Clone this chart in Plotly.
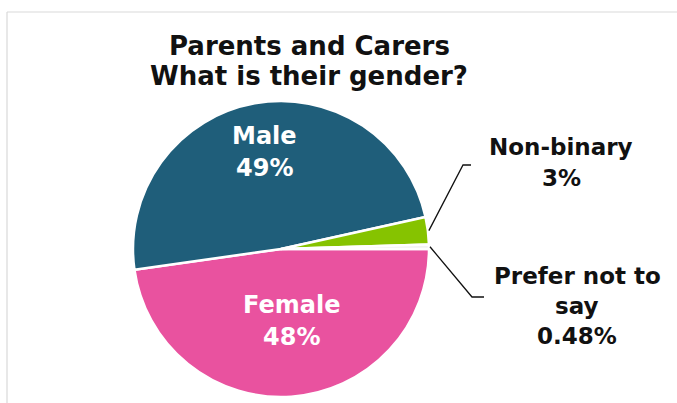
import math
import plotly.graph_objects as go

# Survey answers: parents and carers, by gender
categories = ["Female", "Male", "Non-binary", "Prefer not to say"]
values = [48, 49, 3, 0.48]
value_labels = ["48%", "49%", "3%", "0.48%"]
label_lines = [["Female"], ["Male"], ["Non-binary"], ["Prefer not to", "say"]]
colors = ["#E9529F", "#1F5E7A", "#86C300", "#F2F2F2"]
title_lines = ["Parents and Carers", "What is their gender?"]

W, H = 677, 403
# pie placement in pixels
CX, CY, R = 281, 249, 148


def px(x):
    return x / W


def py(y):
    return 1 - y / H


fig = go.Figure(
    go.Pie(
        labels=categories,
        values=values,
        sort=False,
        direction="clockwise",
        rotation=90,
        marker=dict(colors=colors, line=dict(color="white", width=2.5)),
        textinfo="none",
        hoverinfo="label+value",
        showlegend=False,
        domain=dict(x=[px(CX - R), px(CX + R)], y=[py(CY + R), py(CY - R)]),
    )
)

FONT = "DejaVu Sans"
annotations = []


def text_block(lines, x, y0, pitch, size, color):
    """Stack bold lines centred on x, first line centred at y0 (pixels)."""
    for i, line in enumerate(lines):
        annotations.append(dict(
            text=f"<b>{line}</b>", x=px(x), y=py(y0 + i * pitch),
            xref="paper", yref="paper", xanchor="center", yanchor="middle",
            showarrow=False, align="center",
            font=dict(family=FONT, size=size, color=color),
        ))


text_block(title_lines, 309, 46, 30, 26, "#111111")

# inside labels (white): centre x, first-line y, line pitch
inside_pos = {"Female": (291, 305, 32), "Male": (264, 136, 32)}
# outside labels (black): text block, then elbow and end of the leader line
outside_pos = {
    "Non-binary": ((561, 147, 31), (463, 165), (471, 165)),
    "Prefer not to say": ((577, 276, 30), (472, 297), (484, 297)),
}

total = sum(values)
cum = 0.0
shapes = []
for cat, val, vlab, lines in zip(categories, values, value_labels, label_lines):
    # mid-angle of the slice, measured clockwise from 3 o'clock
    mid = math.radians((cum + val / 2) / total * 360.0)
    cum += val
    block = lines + [vlab]
    if cat in inside_pos:
        x, y, pitch = inside_pos[cat]
        text_block(block, x, y, pitch, 24, "white")
    else:
        (lx, ly, pitch), (ex, ey), (hx, hy) = outside_pos[cat]
        text_block(block, lx, ly, pitch, 23, "#111111")
        # leader line from the slice edge to the label
        sx = CX + (R + 1) * math.cos(mid)
        sy = CY + (R + 1) * math.sin(mid)
        shapes.append(dict(
            type="path", xref="paper", yref="paper",
            path=f"M {px(sx)},{py(sy)} L {px(ex)},{py(ey)} L {px(hx)},{py(hy)}",
            line=dict(color="#111111", width=1.3),
        ))

# light chart-area frame
shapes.append(dict(type="line", xref="paper", yref="paper",
                   x0=px(7), y0=py(12), x1=1, y1=py(12),
                   line=dict(color="#D9D9D9", width=1.2)))
shapes.append(dict(type="line", xref="paper", yref="paper",
                   x0=px(7), y0=py(12), x1=px(7), y1=0,
                   line=dict(color="#D9D9D9", width=1.2)))

fig.update_layout(
    width=W, height=H,
    margin=dict(l=0, r=0, t=0, b=0),
    paper_bgcolor="white", plot_bgcolor="white",
    annotations=annotations, shapes=shapes,
)

fig.write_html("out.html")
